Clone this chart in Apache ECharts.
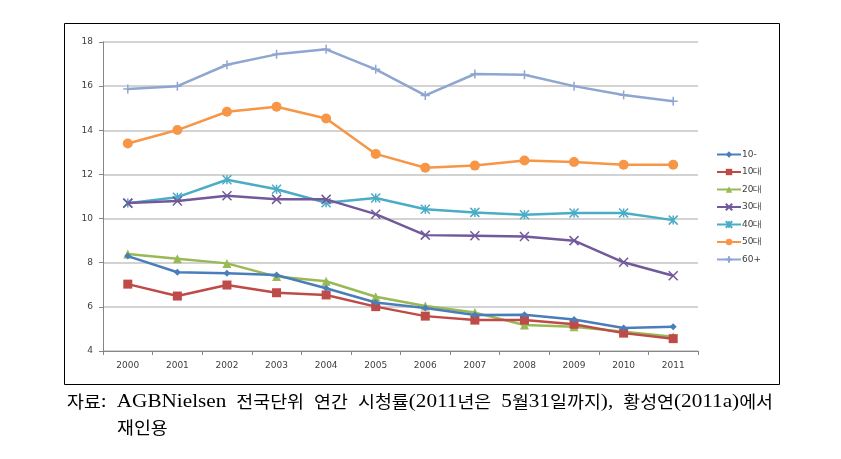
<!DOCTYPE html>
<html><head><meta charset="utf-8">
<script src="https://cdn.jsdelivr.net/npm/echarts@6/dist/echarts.min.js"></script>
<style>html,body{margin:0;padding:0;background:#fff}#c{width:841px;height:459px}</style>
</head><body><div id="c"></div>
<script>
const years = ['2000','2001','2002','2003','2004','2005','2006','2007','2008','2009','2010','2011'];
const yTicks = [4, 18, 2];
const sUnder10 = [8.30, 7.57, 7.52, 7.44, 6.84, 6.20, 5.95, 5.63, 5.64, 5.43, 5.04, 5.10];
const s10s = [7.03, 6.49, 6.99, 6.64, 6.54, 6.01, 5.58, 5.40, 5.40, 5.21, 4.81, 4.56];
const s20s = [8.39, 8.18, 7.97, 7.37, 7.16, 6.46, 6.04, 5.74, 5.18, 5.10, 4.87, 4.65];
const s30s = [10.70, 10.80, 11.03, 10.87, 10.87, 10.20, 9.25, 9.22, 9.19, 9.00, 8.02, 7.41];
const s40s = [10.70, 10.97, 11.76, 11.33, 10.72, 10.93, 10.42, 10.28, 10.17, 10.25, 10.25, 9.93];
const s50s = [13.40, 14.01, 14.84, 15.07, 14.53, 12.93, 12.30, 12.40, 12.63, 12.56, 12.44, 12.44];
const s60p = [15.87, 16.00, 16.97, 17.44, 17.67, 16.76, 15.58, 16.55, 16.52, 16.00, 15.60, 15.32];
const seriesNames = ['10-','10대','20대','30대','40대','50대','60+'];
const captionLine1 = '자료: AGBNielsen 전국단위 연간 시청률(2011년은 5월31일까지), 황성연(2011a)에서';
const captionLine2 = '재인용';

const colors = ['#4A7EBB','#BE4B48','#98B954','#72599A','#4BACC6','#F79646','#8FA6D0'];
const symbols = [
  'diamond','rect','triangle',
  'path://M0,0L10,10M10,0L0,10',
  'path://M0,0L10,10M10,0L0,10M5,0L5,10',
  'circle',
  'path://M5,0L5,10M0,5L10,5'
];
const symSizes = [7, 9, 9, 9, 9, 10, 9];
const dataArr = [sUnder10, s10s, s20s, s30s, s40s, s50s, s60p];

const series = seriesNames.map((n, i) => {
  const strokeOnly = i === 3 || i === 4 || i === 6;
  return {
    name: n, type: 'line', data: dataArr[i],
    symbol: symbols[i], symbolSize: symSizes[i],
    lineStyle: {color: colors[i], width: 2.5},
    itemStyle: strokeOnly ? {color: colors[i], borderColor: colors[i], borderWidth: 1.5}
                          : {color: colors[i], borderWidth: 0},
    emphasis: {disabled: true},
    z: 10 - i
  };
});

// caption typography: Korean / Latin / space runs
const runFonts = {
  k: {size: 16.5, family: 'Noto Sans CJK KR'},
  l: {size: 19, family: 'Liberation Serif'},
  s: {size: 36, family: 'Liberation Serif'}
};
function runs(str) {
  const out = []; let cur = '', type = null;
  for (const ch of str) {
    const t = /[\uAC00-\uD7A3]/.test(ch) ? 'k' : (ch === ' ' ? 's' : 'l');
    if (t !== type) { if (cur) out.push([type, cur]); cur = ''; type = t; }
    cur += ch;
  }
  if (cur) out.push([type, cur]);
  return out;
}
function toRich(str) { return runs(str).map(r => '{' + r[0] + '|' + r[1] + '}').join(''); }
function measure(str) {
  const ctx = document.createElement('canvas').getContext('2d');
  let w = 0;
  runs(str).forEach(r => { const f = runFonts[r[0]]; ctx.font = f.size + 'px "' + f.family + '"'; w += ctx.measureText(r[1]).width; });
  return w;
}
const rich = {};
Object.keys(runFonts).forEach(k => { rich[k] = {fontSize: runFonts[k].size, fontFamily: runFonts[k].family, lineHeight: 22, fill: '#000'}; });
const targetWidth = 706;
const capScale = targetWidth / measure(captionLine1);

const chart = echarts.init(document.getElementById('c'), null, {renderer: 'canvas'});
chart.setOption({
  animation: false,
  backgroundColor: '#fff',
  grid: {left: 103, right: 143, top: 42, bottom: 108},
  xAxis: {
    type: 'category', data: years, boundaryGap: true,
    axisLine: {lineStyle: {color: '#868686', width: 1}},
    axisTick: {show: true, length: 4, lineStyle: {color: '#868686'}},
    axisLabel: {color: '#404040', fontSize: 9, fontFamily: 'DejaVu Sans', margin: 10}
  },
  yAxis: {
    type: 'value', min: yTicks[0], max: yTicks[1], interval: yTicks[2],
    axisLine: {show: true, lineStyle: {color: '#868686', width: 1}},
    axisTick: {show: true, length: 4, lineStyle: {color: '#868686'}},
    axisLabel: {color: '#404040', fontSize: 9, fontFamily: 'DejaVu Sans', margin: 10},
    splitLine: {lineStyle: {color: '#C4C4C4', width: 1.5}}
  },
  legend: {
    orient: 'vertical', left: 711, top: 145,
    itemWidth: 24, itemHeight: 8, itemGap: 8.5,
    textStyle: {fontSize: 9, color: '#404040', fontFamily: 'DejaVu Sans', padding: [0,0,0,-4]},
    data: seriesNames
  },
  series: series,
  graphic: [
    {type: 'rect', shape: {x: 64.5, y: 23.5, width: 715, height: 361},
     style: {fill: 'none', stroke: '#000', lineWidth: 1}, silent: true, z: -1},
    {type: 'text', x: 67, y: 391, scaleX: capScale, originX: 0, originY: 0,
     style: {text: toRich(captionLine1), rich: rich, fill: '#000', verticalAlign: 'top', align: 'left'}},
    {type: 'text', x: 117, y: 417, scaleX: capScale, originX: 0, originY: 0,
     style: {text: toRich(captionLine2), rich: rich, fill: '#000', verticalAlign: 'top', align: 'left'}}
  ]
});
</script></body></html>
